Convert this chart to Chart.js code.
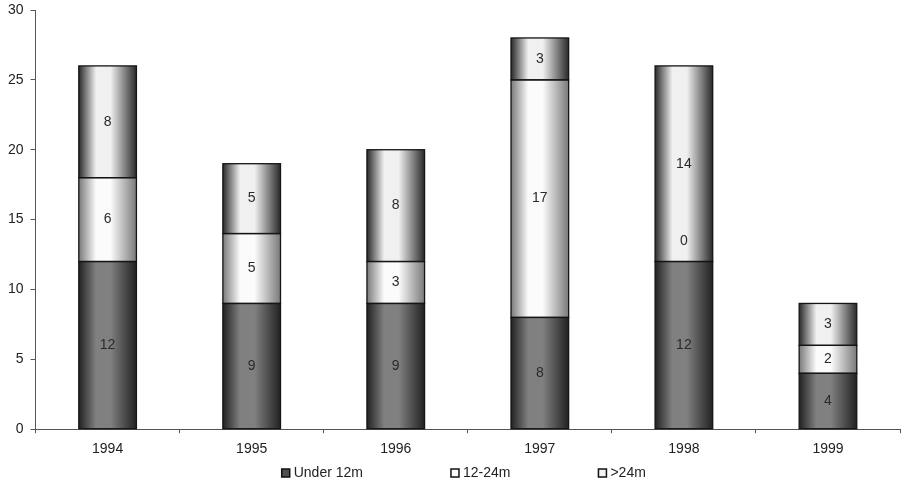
<!DOCTYPE html>
<html>
<head>
<meta charset="utf-8">
<script src="https://cdn.jsdelivr.net/npm/chart.js@4/dist/chart.umd.min.js"></script>
<style>
  body { margin: 0; background: #fff; }
</style>
</head>
<body>
<canvas id="chart" width="904" height="483"></canvas>
<script>
const years = ['1994', '1995', '1996', '1997', '1998', '1999'];
const under12 = [12, 9, 9, 8, 12, 4];
const m12to24 = [6, 5, 3, 17, 0, 2];
const over24 = [8, 5, 8, 3, 14, 3];

const BAR_PCT = 0.4;
const FONT = '"Liberation Sans", Arial, sans-serif';

// cylinder-like shading, dark at the edges and light in the middle
function shade(edge, mid) {
    return function (context) {
        const chart = context.chart;
        const x = chart.scales.x;
        if (!chart.chartArea || !x || context.dataIndex === undefined) return mid;
        const cx = x.getPixelForValue(context.dataIndex);
        const half = (x.width / years.length) * BAR_PCT / 2;
        const g = chart.ctx.createLinearGradient(cx - half, 0, cx + half, 0);
        g.addColorStop(0, edge);
        g.addColorStop(0.3, mid);
        g.addColorStop(0.55, mid);
        g.addColorStop(1, edge);
        return g;
    };
}

// outlines + value labels on each segment
const valueLabels = {
    id: 'valueLabels',
    afterDatasetsDraw(chart) {
        const ctx = chart.ctx;
        ctx.save();
        ctx.strokeStyle = '#151515';
        ctx.lineWidth = 1.3;
        chart.data.datasets.forEach((ds, i) => {
            chart.getDatasetMeta(i).data.forEach((bar) => {
                const p = bar.getProps(['x', 'y', 'base', 'width'], true);
                if (p.base - p.y < 0.5) return;
                ctx.strokeRect(p.x - p.width / 2, p.y, p.width, p.base - p.y);
            });
        });
        ctx.font = '14px ' + FONT;
        ctx.fillStyle = '#2a2a2a';
        ctx.textAlign = 'center';
        ctx.textBaseline = 'middle';
        chart.data.datasets.forEach((ds, i) => {
            chart.getDatasetMeta(i).data.forEach((bar, j) => {
                const v = ds.data[j];
                const p = bar.getProps(['x', 'y', 'base'], true);
                let cy = (p.y + p.base) / 2;
                if (v === 0) cy -= 20;
                ctx.fillText(String(v), p.x, cy);
            });
        });
        ctx.restore();
    }
};

// legend drawn by hand so the items can sit far apart on one short row
const legendFills = ['#505050', '#ffffff', '#f2f2f2'];
const bottomLegend = {
    id: 'bottomLegend',
    afterDraw(chart) {
        const ctx = chart.ctx;
        const area = chart.chartArea;
        const names = chart.data.datasets.map(d => d.label);
        ctx.save();
        ctx.font = '14px ' + FONT;
        ctx.textBaseline = 'middle';
        const box = 8, gap = 4, spacing = 88;
        const widths = names.map(n => box + gap + ctx.measureText(n).width);
        const total = widths.reduce((a, b) => a + b, 0) + spacing * (names.length - 1);
        let x = (area.left + area.right) / 2 - total / 2 - 4;
        const y = chart.height - 10;
        names.forEach((n, i) => {
            ctx.fillStyle = legendFills[i];
            ctx.fillRect(x, y - box / 2, box, box);
            ctx.strokeStyle = '#111';
            ctx.lineWidth = 1.5;
            ctx.strokeRect(x, y - box / 2, box, box);
            ctx.fillStyle = '#222';
            ctx.fillText(n, x + box + gap, y);
            x += widths[i] + spacing;
        });
        ctx.restore();
    }
};

new Chart(document.getElementById('chart'), {
    type: 'bar',
    data: {
        labels: years,
        datasets: [
            {
                label: 'Under 12m',
                data: under12,
                backgroundColor: shade('#222222', '#808080')
            },
            {
                label: '12-24m',
                data: m12to24,
                backgroundColor: shade('#7a7a7a', '#fbfbfb')
            },
            {
                label: '>24m',
                data: over24,
                backgroundColor: shade('#2a2a2a', '#f0f0f0')
            }
        ]
    },
    options: {
        responsive: false,
        animation: false,
        datasets: {
            bar: { barPercentage: BAR_PCT, categoryPercentage: 1, borderWidth: 0 }
        },
        layout: { padding: { top: 10, right: 4, left: 1, bottom: 17 } },
        plugins: {
            tooltip: { enabled: false },
            legend: { display: false }
        },
        scales: {
            x: {
                stacked: true,
                grid: { drawOnChartArea: false, tickLength: 4, color: '#555' },
                border: { color: '#555' },
                ticks: {
                    color: '#222',
                    padding: 8,
                    font: { family: FONT, size: 14 }
                }
            },
            y: {
                stacked: true,
                min: 0,
                max: 30,
                afterFit(scale) { scale.paddingTop = 0; },
                grid: { drawOnChartArea: false, tickLength: 5, color: '#555' },
                border: { color: '#555' },
                ticks: {
                    stepSize: 5,
                    color: '#222',
                    padding: 7,
                    font: { family: FONT, size: 14 }
                }
            }
        }
    },
    plugins: [valueLabels, bottomLegend]
});
</script>
</body>
</html>
